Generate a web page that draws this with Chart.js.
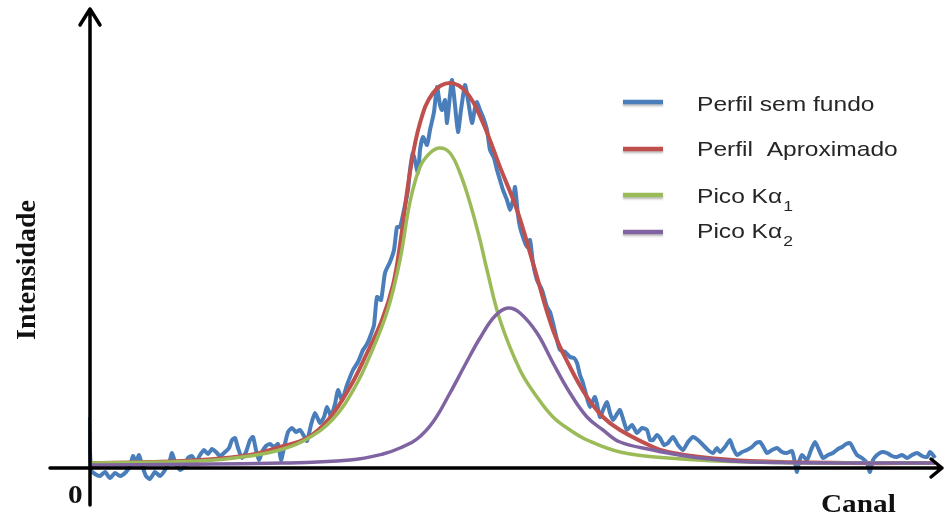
<!DOCTYPE html>
<html>
<head>
<meta charset="utf-8">
<script src="https://cdn.jsdelivr.net/npm/chart.js@4.4.1/dist/chart.umd.min.js"></script>
<style>
  body { margin: 0; background: #fff; }
</style>
</head>
<body>
<canvas id="perfil" width="946" height="521"></canvas>
<script>
// nomes das series (o "_" marca o indice em subscrito)
const nomes = ['Perfil sem fundo', 'Perfil  Aproximado', 'Pico K\u03b1_1', 'Pico K\u03b1_2']

// perfil medido (sem fundo)
const canal_medido = [-1, 1, 5, 10, 15, 20, 25, 30, 36, 40, 43, 46, 49, 52, 56, 60, 65, 70, 75, 80, 82, 85, 90, 95, 98, 102, 106, 110, 114, 118, 122, 126, 130, 135, 139, 142, 145, 148, 152, 156, 160, 163, 166, 169, 172, 176, 180, 184, 188, 191, 194, 198, 202, 206, 210, 214, 217, 221, 225, 230, 234, 237, 241, 245, 248, 252, 257, 263, 268, 273, 277, 280, 284, 287, 291, 295, 300, 304, 307, 310, 314, 318, 320, 323, 328, 330, 333, 337, 340, 344, 347, 350, 352, 355, 357, 360, 362, 365, 368, 371, 375, 378, 382, 385, 387, 390, 393, 397, 400, 404, 407, 410, 413, 417, 420, 423, 425, 428, 430, 434, 437, 440, 443, 447, 452, 457, 460, 463, 467, 470, 475, 480, 484, 487, 490, 493, 497, 500, 505, 510, 513, 517, 520, 523, 527, 530, 534, 537, 542, 547, 552, 557, 560, 563, 567, 570, 574, 578, 583, 588, 593, 598, 603, 608, 613, 618, 623, 627, 630, 635, 640, 643, 647, 652, 657, 662, 666, 670, 674, 677, 682, 687, 692, 697, 702, 705, 707, 709, 712, 717, 721, 725, 729, 733, 738, 743, 748, 752, 756, 760, 764, 767, 772, 777, 780, 783, 787, 792, 797, 802, 807, 812, 817, 822, 827, 832, 837, 840, 843, 845]
const intensidade_medida = [50, -3, -7, -9, -5, -11, -6, -9, -5, 1, 11, 5, 12, 2, -9, -12, -5, -9, -3, 7, 14, 5, -3, 1, 9, 11, 5, 12, 17, 13, 18, 15, 11, 15, 19, 27, 29, 19, 9, 15, 27, 30, 17, 7, 15, 21, 23, 20, 23, 7, 19, 35, 39, 35, 37, 31, 26, 42, 54, 44, 50, 60, 51, 63, 77, 67, 82, 97, 105, 117, 123, 130, 142, 170, 167, 194, 205, 217, 240, 240, 257, 277, 297, 314, 294, 317, 330, 322, 337, 355, 380, 362, 357, 367, 344, 372, 387, 362, 335, 357, 382, 367, 344, 359, 365, 357, 350, 337, 317, 309, 297, 287, 277, 267, 257, 267, 280, 252, 240, 227, 220, 227, 204, 187, 177, 160, 155, 144, 127, 117, 115, 110, 109, 104, 92, 84, 69, 60, 70, 50, 57, 65, 54, 47, 53, 57, 45, 37, 42, 34, 39, 37, 27, 27, 32, 29, 22, 24, 30, 22, 17, 25, 30, 27, 22, 17, 14, 19, 15, 20, 27, 19, 12, 15, 17, 20, 24, 25, 19, 14, 17, 19, 15, 14, 16, 4, -5, 5, 12, 7, 17, 25, 17, 9, 12, 14, 18, 20, 23, 24, 17, 12, 9, 4, -5, 7, 12, 15, 14, 11, 10, 12, 9, 12, 14, 11, 10, 15, 12, 9]

// perfil ajustado
const canal_ajuste = [1, 60, 110, 160, 190, 217, 238, 260, 277, 292, 303, 310, 320, 330, 343, 360, 377, 393, 410, 427, 443, 463, 480, 497, 513, 530, 563, 578, 610, 660, 760, 845]
const intensidade_ajuste = [4, 5, 7, 12, 20, 29, 47, 80, 114, 147, 182, 222, 295, 344, 374, 384, 374, 344, 300, 257, 204, 137, 100, 70, 50, 37, 20, 15, 10, 6, 4, 4]

// pico K alfa 1
const canal_ka1 = [1, 110, 160, 193, 217, 243, 265, 282, 298, 310, 320, 330, 340, 350, 360, 370, 380, 390, 397, 410, 430, 447, 463, 480, 497, 530, 578, 660, 845]
const intensidade_ka1 = [4, 6, 11, 18, 28, 48, 80, 116, 158, 207, 265, 300, 314, 319, 314, 294, 264, 227, 197, 147, 97, 70, 50, 37, 27, 15, 9, 5, 4]

// pico K alfa 2
const canal_ka2 = [1, 193, 260, 293, 310, 327, 343, 360, 375, 390, 405, 418, 430, 447, 463, 480, 497, 513, 530, 563, 578, 610, 660, 845]
const intensidade_ka2 = [2, 4, 7, 13, 19, 28, 45, 74, 102, 129, 151, 159, 154, 134, 104, 74, 50, 37, 25, 17, 14, 9, 5, 4]

const cores = ['#4a7ebb', '#c0504d', '#9bbb59', '#8064a2']

const pontos = (xs, ys) => xs.map((x, i) => ({ x: x, y: ys[i] }))

// eixos com setas, rotulos e legenda desenhados a mao
const eixosPlugin = {
    id: 'eixos',
    afterDatasetsDraw(chart) {
        const ctx = chart.ctx
        const x0 = chart.scales.x.getPixelForValue(0)
        const y0 = chart.scales.y.getPixelForValue(-1)
        ctx.save()
        ctx.strokeStyle = '#000'
        ctx.lineWidth = 3.5
        ctx.lineCap = 'round'
        ctx.lineJoin = 'round'
        // eixo x
        ctx.beginPath()
        ctx.moveTo(50, y0)
        ctx.lineTo(942, y0)
        ctx.moveTo(931, y0 - 9)
        ctx.lineTo(942, y0)
        ctx.lineTo(931, y0 + 9)
        ctx.stroke()
        // eixo y
        ctx.beginPath()
        ctx.moveTo(x0, 505)
        ctx.lineTo(x0, 9)
        ctx.moveTo(x0 - 10, 25)
        ctx.lineTo(x0, 9)
        ctx.lineTo(x0 + 10, 25)
        ctx.stroke()

        const texto = (t, x, y, font) => {
            ctx.save()
            ctx.translate(x, y)
            ctx.scale(1.17, 1)
            ctx.font = font
            ctx.fillText(t, 0, 0)
            const w = ctx.measureText(t).width
            ctx.restore()
            return w * 1.17
        }

        ctx.fillStyle = '#111'
        ctx.textBaseline = 'alphabetic'
        const serif = 'bold 25px "Liberation Serif", "Times New Roman", serif'
        texto('0', 68, 503, serif)
        texto('Canal', 821, 512, serif)

        ctx.save()
        ctx.translate(35, 270)
        ctx.rotate(-Math.PI / 2)
        ctx.font = 'bold 28px "Liberation Serif", "Times New Roman", serif'
        ctx.textAlign = 'center'
        ctx.fillText('Intensidade', 0, 0)
        ctx.restore()

        // legenda
        const linhaY = [102, 149, 195, 232]
        const baseY = [111, 156, 203, 238]
        const sans = '21px "Liberation Sans", Arial, sans-serif'
        chart.data.datasets.forEach((ds, i) => {
            ctx.save()
            ctx.shadowColor = 'rgba(0,0,0,0.25)'
            ctx.shadowOffsetY = 2
            ctx.shadowBlur = 2
            ctx.strokeStyle = ds.borderColor
            ctx.lineWidth = 4.5
            ctx.lineCap = 'butt'
            ctx.beginPath()
            ctx.moveTo(623, linhaY[i])
            ctx.lineTo(663, linhaY[i])
            ctx.stroke()
            ctx.restore()

            ctx.fillStyle = '#262626'
            const partes = ds.label.split('_')
            const w = texto(partes[0], 697, baseY[i], sans)
            if (partes[1]) {
                texto(partes[1], 697 + w + 1, baseY[i] + 8, '15px "Liberation Sans", Arial, sans-serif')
            }
        })
        ctx.restore()
    }
}

const perfil = document.getElementById('perfil').getContext('2d')

new Chart(perfil, {
    type: 'line',
    data: {
        datasets: [
            {
                label: nomes[0],
                data: pontos(canal_medido, intensidade_medida),
                borderColor: cores[0],
                borderWidth: 4,
                tension: 0.2,
                order: 4
            },
            {
                label: nomes[1],
                data: pontos(canal_ajuste, intensidade_ajuste),
                borderColor: cores[1],
                borderWidth: 4,
                tension: 0.4,
                order: 3
            },
            {
                label: nomes[2],
                data: pontos(canal_ka1, intensidade_ka1),
                borderColor: cores[2],
                borderWidth: 3.5,
                tension: 0.4,
                order: 2
            },
            {
                label: nomes[3],
                data: pontos(canal_ka2, intensidade_ka2),
                borderColor: cores[3],
                borderWidth: 3.5,
                tension: 0.4,
                order: 1
            }
        ]
    },
    options: {
        responsive: false,
        animation: false,
        layout: {
            padding: { left: 88, right: 5, top: 15, bottom: 0 }
        },
        elements: {
            point: { radius: 0 }
        },
        scales: {
            x: { type: 'linear', min: -2, max: 851, display: false },
            y: { min: -54, max: 452, display: false }
        },
        plugins: {
            legend: { display: false },
            tooltip: { enabled: false }
        }
    },
    plugins: [eixosPlugin]
});
</script>
</body>
</html>
